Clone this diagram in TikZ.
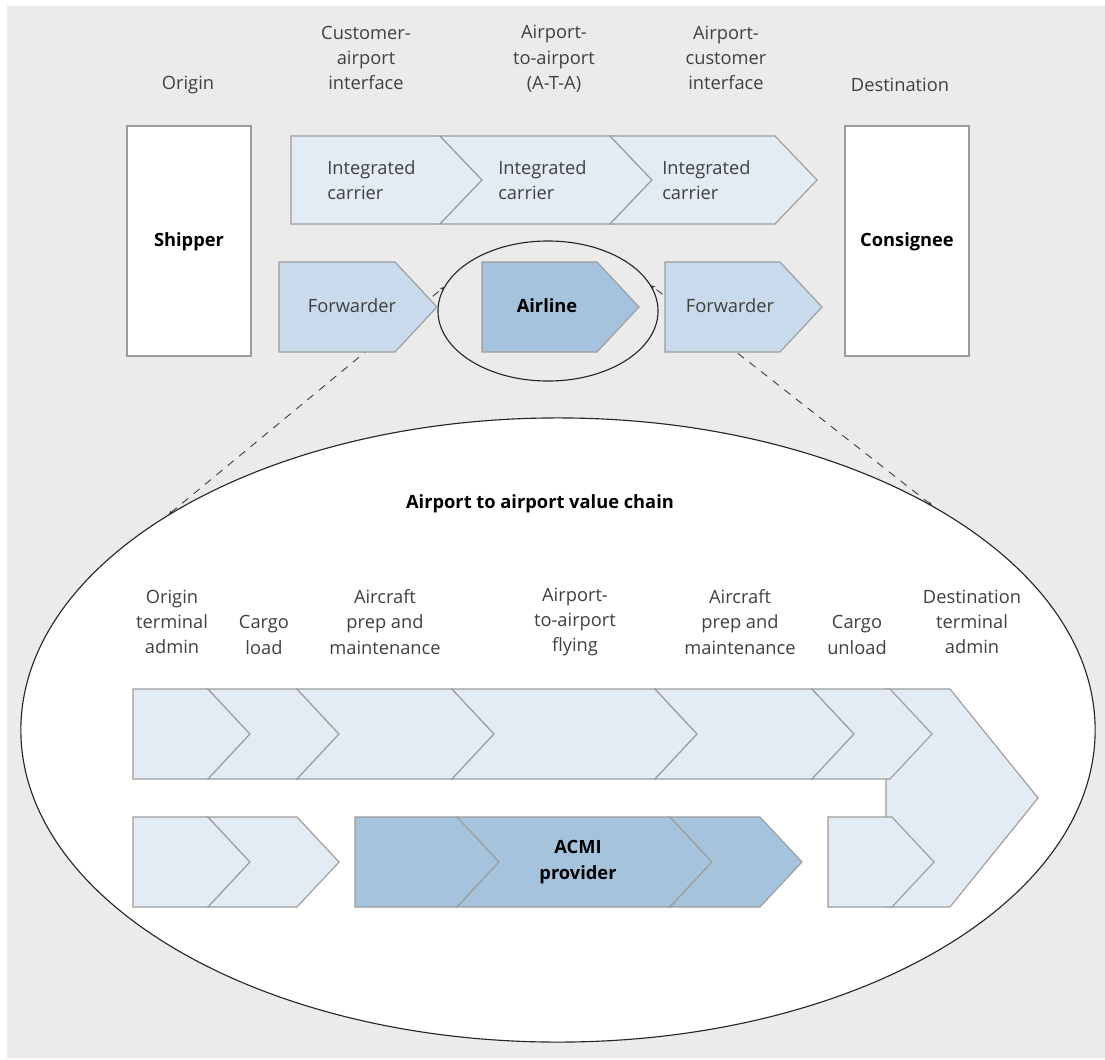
\documentclass[tikz,border=0pt]{standalone}
\usepackage{fontspec}
\setmainfont{Open Sans}
\usepackage{xcolor}
\usepackage{tikz}
\usetikzlibrary{arrows.meta,positioning,shapes.geometric}

\definecolor{bggray}{HTML}{EBEBEB}
\definecolor{txtgray}{HTML}{404040}
\definecolor{edgegray}{HTML}{9C9C9C}
\definecolor{chevpale}{HTML}{E3EBF4}
\definecolor{chevmid}{HTML}{C8DAEB}
\definecolor{chevdark}{HTML}{A6C3DE}

\begin{document}
\begin{tikzpicture}[x=0.025cm, y=-0.025cm, font=\fontsize{13}{18}\selectfont,
  lbl/.style={align=center, text=txtgray, inner sep=0pt},
  lblb/.style={lbl, text=black, font=\fontsize{13}{18}\selectfont\bfseries},
  chev/.style={draw=edgegray, line width=0.8pt, fill=chevpale},
  fwd/.style={chev, fill=chevmid},
  air/.style={chev, fill=chevdark},
  endbox/.style={draw=edgegray, line width=1pt, fill=white},
  oval/.style={ellipse, draw=black!85, line width=0.8pt, inner sep=0pt},
  link/.style={dash pattern=on 5.5pt off 5pt, line width=0.6pt, black!80,
    {Stealth[length=3pt,width=2.5pt]}-{Stealth[length=3pt,width=2.5pt]}}]

  % Frame
  \useasboundingbox (0,0) rectangle (1105,1059);
  \fill[white] (0,0) rectangle (1105,1059);
  \fill[bggray] (7,6) rectangle (1105,1058);

  % Ovals and zoom lines
  \node[oval, fill=white, minimum width=26.85cm, minimum height=15.6cm] (bigOval) at (558,730) {};
  \node[oval, minimum width=5.5cm, minimum height=3.5cm] (airOval) at (548,311) {};
  \draw[link] (bigOval.151.7) -- (airOval.167);
  \draw[link] (bigOval.31.2) -- (airOval.14.3);

  % Column headings
  \node[lbl] (hOrigin) at (188,85) {Origin};
  \node[lbl] (hCustAir) at (366,58) {Customer-\\airport\\interface};
  \node[lbl] (hAta) at (554,59) {Airport-\\to-airport\\(A-T-A)};
  \node[lbl] (hAirCust) at (726,58) {Airport-\\customer\\interface};
  \node[lbl] (hDest) at (900,85) {Destination};

  % Shipper and consignee
  \draw[endbox] (127,126) rectangle (251,356);
  \node[lblb] (shipper) at (189,242) {Shipper};
  \draw[endbox] (845,126) rectangle (969,356);
  \node[lblb] (consignee) at (907,242) {Consignee};

  % Integrated carriers
  \foreach \a/\b/\n in {291/440/0, 440/610/42, 610/775/42}
    \draw[chev] (\a,136) -- (\b,136) -- ({\b+42},180) -- (\b,224) -- (\a,224) -- ({\a+\n},180) -- cycle;
  \node[lbl, align=left, anchor=west] (intA) at (327,180) {Integrated\\carrier};
  \node[lbl, align=left, anchor=west] (intB) at (498,180) {Integrated\\carrier};
  \node[lbl, align=left, anchor=west] (intC) at (662,180) {Integrated\\carrier};

  % Forwarder - airline - forwarder
  \foreach \a/\b/\s in {279/395/fwd, 482/597/air, 665/780/fwd}
    \draw[\s] (\a,262) -- (\b,262) -- ({\b+42},307) -- (\b,352) -- (\a,352) -- cycle;
  \node[lbl] (fwdL) at (352,306) {Forwarder};
  \node[lblb] (airline) at (547,306) {Airline};
  \node[lbl] (fwdR) at (730,306) {Forwarder};

  % Airport to airport value chain
  \node[lblb] (chainTitle) at (540,504) {Airport to airport value chain};
  \node[lbl] (cOrigin) at (172,622) {Origin\\terminal\\admin};
  \node[lbl] (cLoad) at (264,635) {Cargo\\load};
  \node[lbl] (cPrepA) at (385,622) {Aircraft\\prep and\\maintenance};
  \node[lbl] (cFly) at (575,622) {Airport-\\to-airport\\flying};
  \node[lbl] (cPrepB) at (740,622) {Aircraft\\prep and\\maintenance};
  \node[lbl] (cUnload) at (857,635) {Cargo\\unload};
  \node[lbl] (cDest) at (972,622) {Destination\\terminal\\admin};

  \draw[chev] (886,689) -- (950,689) -- (1038,798) -- (950,907) -- (886,907) -- cycle;
  \foreach \a/\b/\n in {133/208/0, 208/297/42, 297/452/42, 452/655/42, 655/812/42, 812/890/42}
    \draw[chev] (\a,689) -- (\b,689) -- ({\b+42},734) -- (\b,779) -- (\a,779) -- ({\a+\n},734) -- cycle;
  \foreach \a/\b/\n/\s in {133/208/0/chev, 208/297/42/chev, 355/457/0/air, 457/670/42/air, 670/760/42/air, 828/892/0/chev}
    \draw[\s] (\a,817) -- (\b,817) -- ({\b+42},862) -- (\b,907) -- (\a,907) -- ({\a+\n},862) -- cycle;
  \node[lblb] (acmi) at (578,862) {ACMI\\provider};
\end{tikzpicture}
\end{document}
